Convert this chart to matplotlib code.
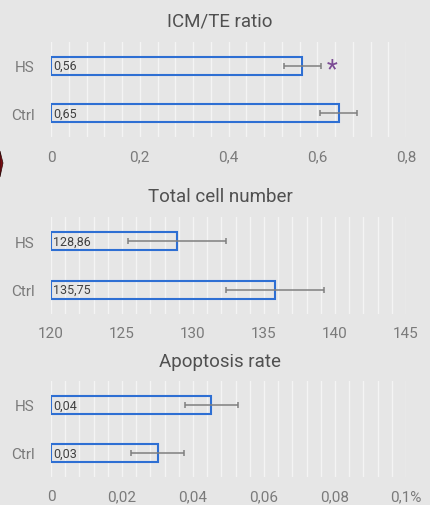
import matplotlib.pyplot as plt
from matplotlib.patches import Polygon
from matplotlib.ticker import MultipleLocator

plt.rcParams['font.family'] = ['Roboto', 'DejaVu Sans']

groups = ["Ctrl", "HS"]

titles = ["ICM/TE ratio", "Total cell number", "Apoptosis rate"]
values = [[0.648, 0.566], [135.75, 128.86], [0.0301, 0.0452]]
errors = [[0.041, 0.042], [3.45, 3.45], [0.0075, 0.0075]]
value_labels = [["0,65", "0,56"], ["135,75", "128,86"], ["0,03", "0,04"]]
significance = [[None, "*"], [None, None], [None, None]]

xlims = [(0, 0.8), (120, 145), (0, 0.1)]
major_steps = [0.2, 5, 0.02]
minor_steps = [0.04, 1, 0.004]
tick_labels = [["0", "0,2", "0,4", "0,6", "0,8"],
               ["120", "125", "130", "135", "140", "145"],
               ["0", "0,02", "0,04", "0,06", "0,08", "0,1%"]]

W, H = 430, 506
bg = "#e6e6e6"
blue = "#2e6fd3"
grey_err = "#7f7f7f"
txt = "#505050"

fig = plt.figure(figsize=(W / 100, H / 100), dpi=100, facecolor=bg)

# axes boxes in pixels: (top, bottom), title y
boxes = [(43, 138, 22), (218, 315, 197), (382, 478, 362)]
left_px, right_px = 51, 406

for i, (top, bot, ty) in enumerate(boxes):
    ax = fig.add_axes([left_px / W, 1 - bot / H, (right_px - left_px) / W, (bot - top) / H])
    ax.set_facecolor(bg)
    x0, x1 = xlims[i]
    lefts = [x0, x0]
    widths = [v - x0 for v in values[i]]
    ax.barh(range(len(groups)), widths, left=lefts, height=0.38,
            facecolor="none", edgecolor=blue, linewidth=1.5, zorder=3)
    ax.errorbar(values[i], range(len(groups)), xerr=errors[i], fmt="none",
                ecolor=grey_err, elinewidth=1.1, capsize=2, capthick=1.1, zorder=4)
    for j, lab in enumerate(value_labels[i]):
        ax.text(x0 + (x1 - x0) * 0.006, j, lab, va="center", ha="left",
                fontsize=9, color="#404040", zorder=5)
        if significance[i][j]:
            ax.text(values[i][j] + errors[i][j] + (x1 - x0) * 0.032, j - 0.08,
                    significance[i][j], va="center", ha="center",
                    fontsize=18, color="#7b4b94", zorder=5)
    ax.set_xlim(x0, x1)
    ax.set_ylim(-0.5, 1.5)
    ax.xaxis.set_minor_locator(MultipleLocator(minor_steps[i]))
    ax.set_xticks([x0 + k * major_steps[i] for k in range(len(tick_labels[i]))])
    ax.set_xticklabels(tick_labels[i])
    ax.set_yticks(range(len(groups)))
    ax.set_yticklabels(groups)
    ax.grid(axis="x", which="both", color="#f4f4f4", linewidth=1.0, zorder=0)
    ax.tick_params(axis="both", which="both", length=0, labelsize=11, colors="#7a7a7a")
    ax.tick_params(axis="x", pad=9)
    ax.tick_params(axis="y", pad=12)
    for s in ax.spines.values():
        s.set_visible(False)
    fig.text(0.512, 1 - ty / H, titles[i],
             ha="center", va="center", fontsize=13.5, color=txt)

# small cropped artifact at left edge
fig.patches.append(Polygon([[0, 1 - 152 / H], [3 / W, 1 - 164 / H], [0, 1 - 178 / H]],
                           closed=True, transform=fig.transFigure,
                           facecolor="#7a0d12", edgecolor="#2a0a0a", linewidth=0.5))

fig.savefig("out.png", dpi=100, facecolor=bg)
